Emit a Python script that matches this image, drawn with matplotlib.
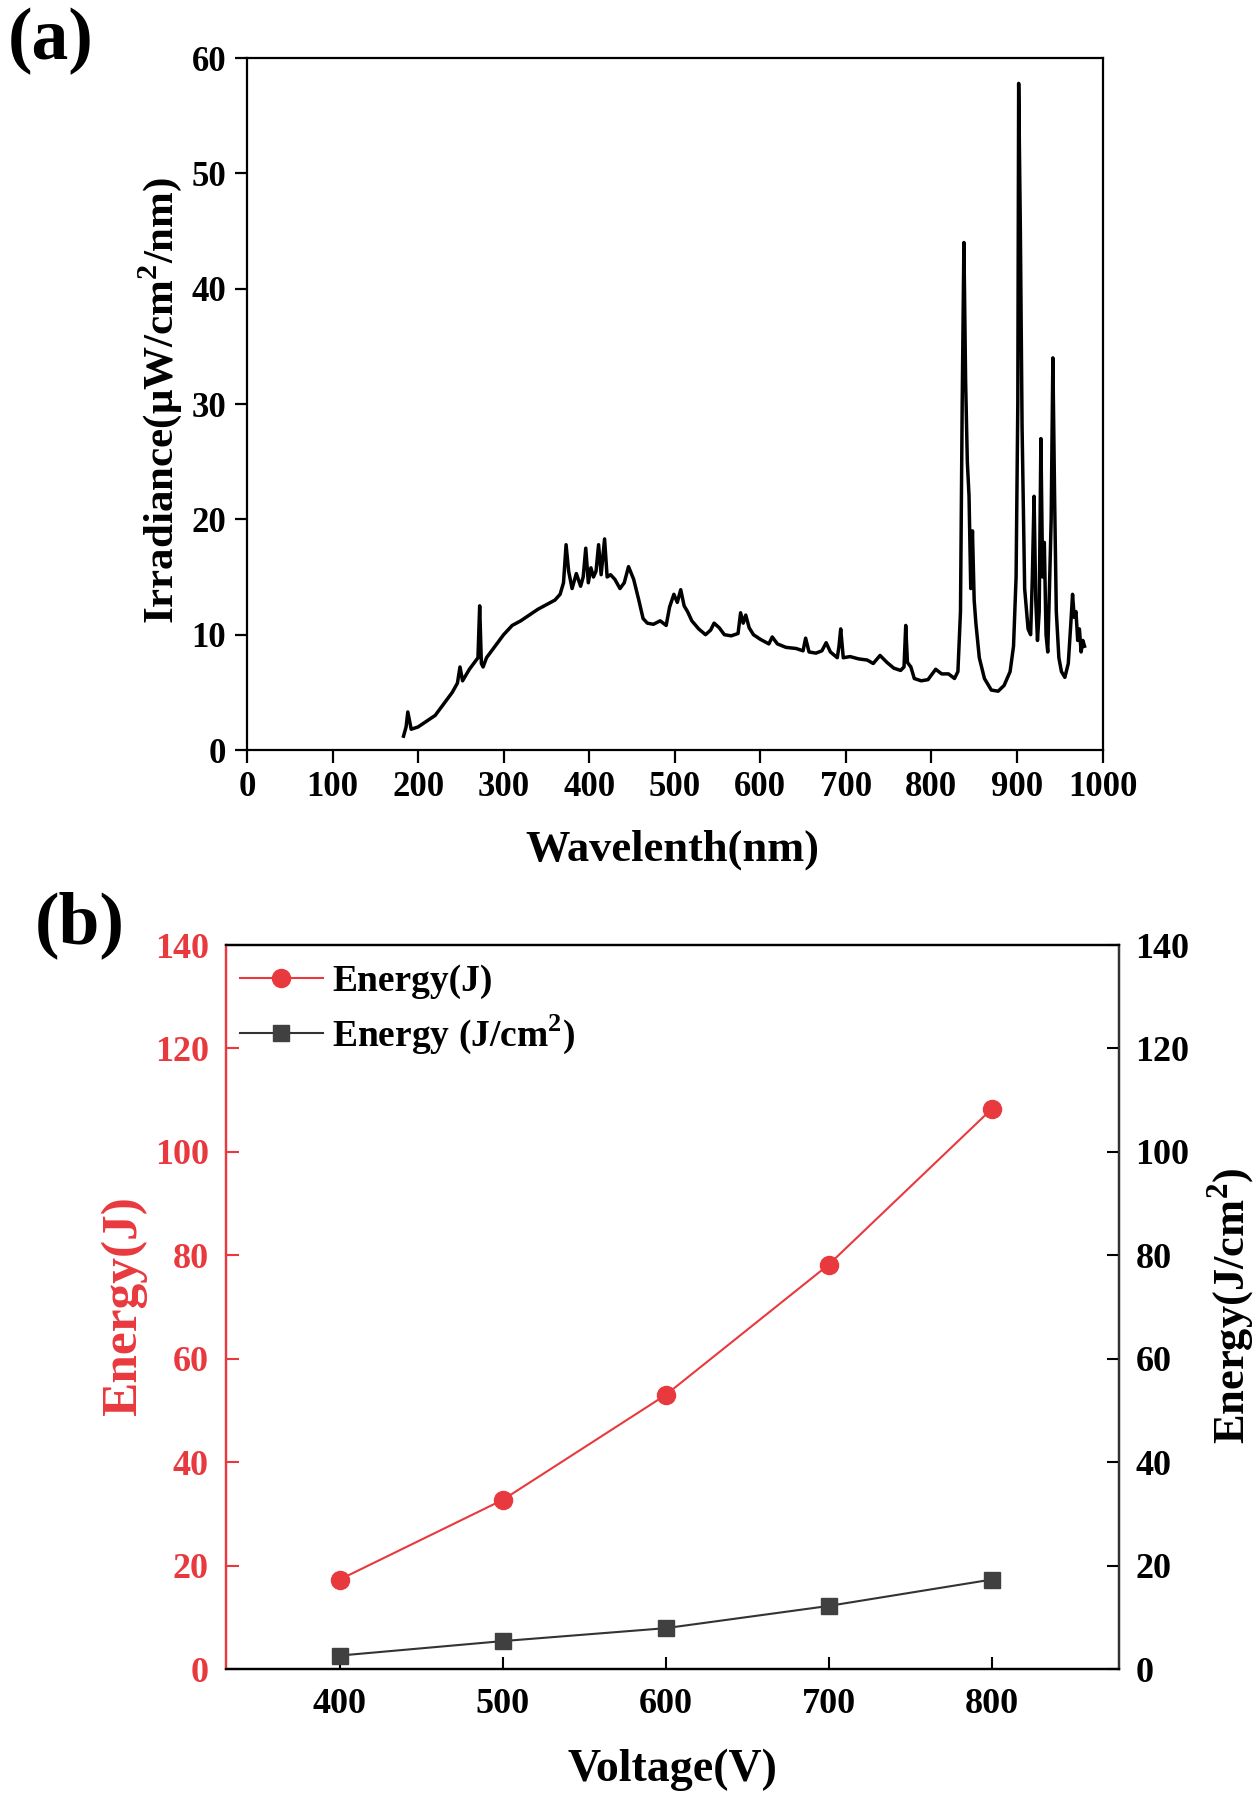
import matplotlib
matplotlib.use('Agg')
import matplotlib.pyplot as plt

plt.rcParams['font.family'] = ['Liberation Serif', 'DejaVu Serif']
plt.rcParams['font.weight'] = 'bold'
plt.rcParams['mathtext.fontset'] = 'custom'
plt.rcParams['mathtext.rm'] = 'Liberation Serif:bold'
plt.rcParams['mathtext.bf'] = 'Liberation Serif:bold'

# (a) lamp spectrum
wavelength = [183, 186, 188, 192, 200, 210, 220, 230, 240, 246, 249, 252, 260, 266,
              270, 272, 274, 276, 280, 290, 300, 310, 320, 330, 340, 350, 360, 366,
              370, 373, 376, 380, 385, 390, 393, 396, 399, 402, 405, 408, 411, 414,
              418, 421, 425, 430, 436, 441, 446, 452, 458, 463, 468, 475, 483, 490,
              494, 499, 503, 507, 511, 515, 520, 528, 536, 542, 546, 552, 558, 566,
              574, 577, 580, 583, 587, 592, 600, 610, 614, 620, 630, 642, 650, 653,
              657, 665, 672, 677, 682, 690, 692, 694, 697, 705, 715, 725, 732, 740,
              748, 756, 764, 768, 770, 772, 776, 780, 788, 796, 800, 805, 812, 820,
              827, 831, 834, 836, 838, 840, 842, 844, 846, 848, 850, 852, 856, 862,
              870, 878, 885, 892, 896, 899, 901, 902, 904, 906, 909, 913, 916, 918,
              920, 922, 924, 926, 928, 930, 932, 934, 936, 938, 940, 942, 944, 946,
              949, 952, 956, 960, 963, 965, 967, 969, 971, 973, 975, 977, 979]
irradiance = [1.2, 2.0, 3.3, 1.8, 2.0, 2.5, 3.0, 4.0, 5.0, 5.8, 7.2, 6.0, 7.0, 7.6,
              8.0, 12.5, 7.5, 7.2, 8.0, 9.0, 10.0, 10.8, 11.2, 11.7, 12.2, 12.6, 13.0, 13.5,
              14.5, 17.8, 15.5, 14.0, 15.3, 14.2, 15.0, 17.5, 14.5, 15.8, 15.0, 15.5, 17.8, 15.2,
              18.3, 15.0, 15.2, 14.8, 14.0, 14.5, 15.9, 14.8, 13.0, 11.4, 11.0, 10.9, 11.2, 10.8,
              12.4, 13.5, 12.8, 13.9, 12.5, 12.0, 11.2, 10.5, 10.0, 10.4, 11.0, 10.6, 10.0, 9.9,
              10.1, 11.9, 11.0, 11.7, 10.6, 10.0, 9.6, 9.2, 9.8, 9.2, 8.9, 8.8, 8.6, 9.7,
              8.5, 8.4, 8.6, 9.3, 8.5, 8.0, 9.0, 10.5, 8.0, 8.1, 7.9, 7.8, 7.5, 8.2,
              7.6, 7.1, 6.9, 7.2, 10.8, 7.6, 7.2, 6.2, 6.0, 6.1, 6.5, 7.0, 6.6, 6.6,
              6.2, 6.8, 12.0, 30.0, 44.0, 32.0, 25.0, 22.0, 14.0, 19.0, 13.0, 11.0, 8.0, 6.2,
              5.2, 5.1, 5.6, 6.8, 9.0, 15.0, 30.0, 57.8, 45.0, 28.0, 14.0, 10.5, 10.0, 15.0,
              22.0, 13.0, 9.5, 12.0, 27.0, 15.0, 18.0, 10.0, 8.5, 14.0, 20.0, 34.0, 22.0, 12.0,
              8.0, 6.8, 6.3, 7.5, 11.0, 13.5, 11.5, 12.0, 9.5, 10.5, 8.5, 9.5, 9.0]

# (b) energy vs voltage
voltage = [400, 500, 600, 700, 800]
energy_j = [17.3, 32.7, 53.0, 78.2, 108.3]
energy_jcm2 = [2.6, 5.4, 7.9, 12.2, 17.3]

red = '#e8393e'
dark = '#333333'

fig = plt.figure(figsize=(12.6, 17.96), dpi=100)

# panel (a)
ax1 = fig.add_axes([0.196, 0.5824, 0.679, 0.3853])
ax1.plot(wavelength, irradiance, color='black', lw=2.5)
ax1.set_xlim(0, 1000)
ax1.set_ylim(0, 60)
ax1.set_xticks(range(0, 1001, 100))
ax1.set_yticks(range(0, 61, 10))
ax1.tick_params(direction='out', length=9, width=1.6, labelsize=25, pad=6)
for s in ax1.spines.values():
    s.set_linewidth(1.6)
fig.text(0.534, 0.5267, 'Wavelenth(nm)', fontsize=32, fontweight='bold',
         ha='center', va='center')
fig.text(0.127, 0.777, r'Irradiance($\mathregular{\mu}$W/cm$^{\mathregular{2}}$/nm)',
         fontsize=31, fontweight='bold', rotation=90, ha='center', va='center')
fig.text(0.040, 0.977, '(a)', fontsize=53, fontweight='bold', ha='center', va='center')

# panel (b)
ax2 = fig.add_axes([0.179, 0.0707, 0.709, 0.4031])
ax3 = ax2.twinx()
l1, = ax2.plot(voltage, energy_j, color=red, lw=1.5, marker='o', ms=13, label='Energy(J)')
l2, = ax3.plot(voltage, energy_jcm2, color=dark, lw=1.5, marker='s', ms=11,
               markerfacecolor='#404040', markeredgecolor='#404040',
               label=r'Energy (J/cm$^{\mathregular{2}}$)')
ax2.set_xlim(330, 878)
ax2.set_ylim(0, 140)
ax3.set_ylim(0, 140)
ax2.set_xticks(voltage)
ax2.set_yticks(range(0, 141, 20))
ax3.set_yticks(range(0, 141, 20))
ax2.tick_params(axis='x', direction='in', length=9, width=1.5, labelsize=26, pad=14)
ax2.tick_params(axis='y', direction='in', length=9, width=1.5, labelsize=26, pad=12,
                colors=red)
ax3.tick_params(axis='y', direction='in', length=9, width=1.5, labelsize=26, pad=12,
                colors='black')
ax2.spines['left'].set_color(red)
ax3.spines['left'].set_color(red)
ax3.spines['right'].set_color(dark)
for ax in (ax2, ax3):
    for s in ax.spines.values():
        s.set_linewidth(1.6)
fig.text(0.534, 0.0145, 'Voltage(V)', fontsize=33, fontweight='bold',
         ha='center', va='center')
fig.text(0.098, 0.273, 'Energy(J)', fontsize=37, fontweight='bold', color=red,
         rotation=90, ha='center', va='center')
fig.text(0.977, 0.273, r'Energy(J/cm$^{\mathregular{2}}$)', fontsize=32, fontweight='bold',
         rotation=90, ha='center', va='center')
ax2.legend(handles=[l1, l2], loc='upper left', frameon=False, fontsize=27,
           bbox_to_anchor=(-0.013, 1.01), handlelength=2.2, handletextpad=0.25,
           labelspacing=0.35, borderaxespad=0.3)
fig.text(0.063, 0.485, '(b)', fontsize=53, fontweight='bold', ha='center', va='center')

fig.savefig('out.png', dpi=100)
